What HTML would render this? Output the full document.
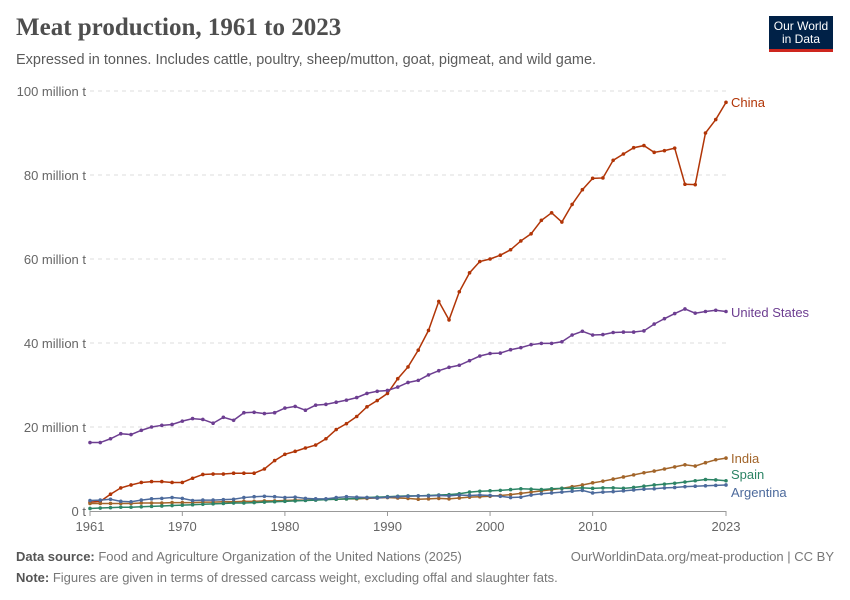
<!DOCTYPE html>
<html><head><meta charset="utf-8"><style>
body{margin:0;background:#fff;font-family:"Liberation Sans",sans-serif;}
#wrap{position:relative;width:850px;height:600px;overflow:hidden}
.t{position:absolute;white-space:nowrap}
</style></head><body><div id="wrap">
<div class="t" style="left:16px;top:14px;font-family:'Liberation Serif',serif;font-size:25px;color:#4e4e4e;font-weight:bold">Meat production, 1961 to 2023</div>
<div class="t" style="left:16px;top:52px;font-size:14.5px;color:#5b5b5b">Expressed in tonnes. Includes cattle, poultry, sheep/mutton, goat, pigmeat, and wild game.</div>
<div style="position:absolute;left:769px;top:16px;width:64px;height:36px;background:#002147;border-bottom:3px solid #ce261e;color:#fff;font-size:12px;line-height:13px;text-align:center;padding-top:4px;box-sizing:border-box">Our World<br>in Data</div>
<svg id="ch" width="850" height="600" style="position:absolute;left:0;top:0"></svg>
<div class="t" style="left:16px;top:549px;font-size:13px;color:#777"><b style="color:#555">Data source:</b> Food and Agriculture Organization of the United Nations (2025)</div>
<div class="t" style="right:16px;top:549px;font-size:13px;color:#777">OurWorldinData.org/meat-production | CC BY</div>
<div class="t" style="left:16px;top:570px;font-size:13px;color:#777"><b style="color:#555">Note:</b> Figures are given in terms of dressed carcass weight, excluding offal and slaughter fats.</div>
</div>
<script>
const years=[];for(let y=1961;y<=2023;y++)years.push(y);
const china=[2.1,2.3,4.0,5.5,6.2,6.8,7.0,7.0,6.8,6.8,7.8,8.7,8.8,8.8,9.0,9.0,9.0,10.0,12.0,13.5,14.2,15.0,15.7,17.2,19.4,20.8,22.5,24.8,26.3,28.0,31.5,34.3,38.3,43.0,49.9,45.5,52.2,56.7,59.4,60.0,60.9,62.2,64.3,66.0,69.2,71.0,68.8,73.0,76.5,79.2,79.3,83.5,85.0,86.5,87.0,85.4,85.8,86.4,77.8,77.7,90.0,93.2,97.3];
const us=[16.3,16.3,17.2,18.4,18.2,19.2,20.0,20.4,20.6,21.4,22.0,21.8,20.9,22.3,21.6,23.4,23.5,23.2,23.4,24.5,24.9,24.0,25.2,25.4,25.9,26.4,27.0,28.0,28.5,28.7,29.5,30.6,31.1,32.4,33.4,34.2,34.7,35.8,36.9,37.5,37.6,38.4,38.9,39.6,39.9,39.9,40.3,41.9,42.8,41.9,42.0,42.5,42.6,42.6,42.9,44.5,45.8,47.0,48.1,47.1,47.5,47.8,47.5];
const india=[1.8,1.8,1.8,1.8,1.8,1.9,1.9,1.9,2.0,2.0,2.0,2.1,2.1,2.2,2.2,2.3,2.3,2.4,2.4,2.5,2.6,2.6,2.7,2.8,2.8,2.9,2.9,3.0,3.1,3.2,3.1,3.0,2.8,2.9,3.0,2.9,3.1,3.3,3.4,3.5,3.7,3.9,4.2,4.5,4.8,5.1,5.4,5.8,6.2,6.7,7.1,7.6,8.1,8.6,9.1,9.5,10.0,10.5,11.0,10.7,11.5,12.2,12.6];
const spain=[0.6,0.7,0.8,0.9,0.9,1.0,1.1,1.2,1.3,1.4,1.5,1.6,1.7,1.8,1.9,1.9,2.0,2.1,2.2,2.3,2.4,2.5,2.6,2.7,2.8,2.9,3.0,3.2,3.3,3.4,3.5,3.6,3.6,3.7,3.8,3.9,4.1,4.5,4.7,4.8,4.9,5.1,5.3,5.2,5.1,5.3,5.4,5.4,5.5,5.4,5.5,5.5,5.4,5.6,5.9,6.2,6.4,6.6,6.9,7.2,7.5,7.4,7.2];
const arg=[2.5,2.6,2.8,2.3,2.2,2.6,2.9,3.0,3.2,3.0,2.5,2.6,2.6,2.7,2.8,3.2,3.4,3.5,3.4,3.2,3.3,3.0,2.9,2.9,3.2,3.4,3.3,3.2,3.1,3.3,3.4,3.5,3.6,3.6,3.7,3.6,3.8,3.7,3.8,3.7,3.5,3.2,3.3,3.8,4.1,4.3,4.5,4.7,4.9,4.3,4.5,4.6,4.8,5.0,5.2,5.3,5.5,5.6,5.8,5.9,6.0,6.1,6.2];
const yTicks=[0,20,40,60,80,100];
const yTickLabels=["0 t","20 million t","40 million t","60 million t","80 million t","100 million t"];
const xTicks=[1961,1970,1980,1990,2000,2010,2023];
const seriesNames=["China","United States","India","Spain","Argentina"];
const colors=["#b13507","#6d3e91","#a2652a","#2c8465","#4c6a9c"];
const labelY=[103,313,459,475,493];
const X=y=>90+(y-1961)*(726-90)/62;
const Y=v=>511-v*4.2;
const svg=document.getElementById('ch');const NS='http://www.w3.org/2000/svg';
function mk(t,a){const e=document.createElementNS(NS,t);for(const k in a)e.setAttribute(k,a[k]);svg.appendChild(e);return e;}
yTicks.forEach((v,i)=>{
 if(v>0){const l=mk('line',{x1:90,x2:726,y1:Y(v),y2:Y(v),stroke:'#ddd','stroke-dasharray':'4,4'});
 
 }
 const t=mk('text',{x:86,y:Y(v)+5,'text-anchor':'end','font-size':13,fill:'#666','font-family':'Liberation Sans'});t.textContent=yTickLabels[i];
 
 
});
const ax=mk('line',{x1:90,x2:726,y1:511.5,y2:511.5,stroke:'#999'});


xTicks.forEach(y=>{
 const tk=mk('line',{x1:X(y),x2:X(y),y1:511,y2:516,stroke:'#999'});
 
 
 const t=mk('text',{x:X(y),y:531,'text-anchor':'middle','font-size':13,fill:'#666','font-family':'Liberation Sans'});t.textContent=y;
 
 
});
[china,us,india,spain,arg].forEach((d,si)=>{
 const g=mk('g',{});
 
 
 const p=document.createElementNS(NS,'polyline');
 p.setAttribute('points',d.map((v,i)=>X(years[i])+','+Y(v)).join(' '));
 p.setAttribute('fill','none');p.setAttribute('stroke',colors[si]);p.setAttribute('stroke-width',1.5);
 
 
 g.appendChild(p);
 d.forEach((v,i)=>{const c=document.createElementNS(NS,'circle');c.setAttribute('cx',X(years[i]));c.setAttribute('cy',Y(v));c.setAttribute('r',1.8);c.setAttribute('fill',colors[si]);
 
 
 g.appendChild(c);});
 const t=mk('text',{x:731,y:labelY[si]+4,'font-size':13,fill:colors[si],'font-family':'Liberation Sans'});t.textContent=seriesNames[si];
 
 
});
</script></body></html>
